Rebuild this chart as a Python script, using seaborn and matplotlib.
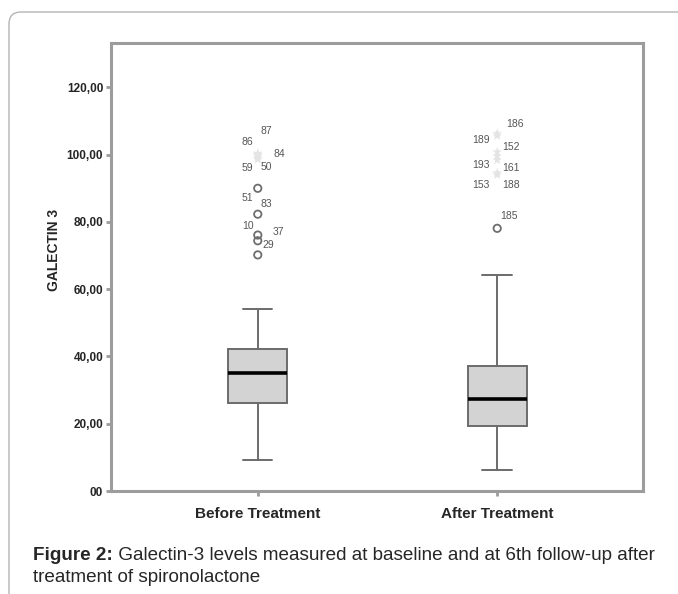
import numpy as np
import pandas as pd
import matplotlib
matplotlib.use("Agg")
import matplotlib.pyplot as plt
import seaborn as sns
from matplotlib.patches import FancyBboxPatch

# ---- data ----
groups = ["Before Treatment", "After Treatment"]
# five-number summaries (low whisker, Q1, median, Q3, high whisker)
before_summary = [9.2, 26.3, 35.2, 42.2, 54.2]
after_summary = [6.3, 19.4, 27.3, 37.2, 64.1]

# mild outliers (circles)
before_out_ids = ["51", "83", "10", "37", "29"]
before_out_vals = [90.0, 82.3, 76.1, 74.4, 70.2]
after_out_ids = ["185"]
after_out_vals = [78.1]

# extreme outliers (asterisks)
before_ext_ids = ["87", "86", "84", "59", "50"]
before_ext_vals = [100.4, 100.0, 99.6, 99.0, 98.6]
after_ext_ids = ["186", "189", "152", "193", "161", "153", "188"]
after_ext_vals = [106.3, 105.6, 100.8, 99.6, 98.4, 94.6, 94.0]

# label offsets in pixels (dx right, dy down) relative to each point
before_out_offsets = [(-10, 10), (9, -10), (-10, -9), (21, -9), (11, -10)]
after_out_offsets = [(12, -12)]
before_ext_offsets = [(9, -22), (-10, -13), (22, -2), (-10, 10), (9, 8)]
after_ext_offsets = [(18, -9), (-16, 4), (14, -5), (-16, 9), (14, 8), (-16, 12), (14, 10)]

y_ticks = [0, 20, 40, 60, 80, 100, 120]
y_ticklabels = ["00", "20,00", "40,00", "60,00", "80,00", "100,00", "120,00"]
y_label = "GALECTIN 3"
caption_bold = "Figure 2:"
caption_rest = " Galectin-3 levels measured at baseline and at 6th follow-up after"
caption_line2 = "treatment of spironolactone"

# ---- styling ----
sns.set_style("white")
plt.rcParams["font.family"] = ["Liberation Sans", "DejaVu Sans"]

W, H = 678, 594
fig = plt.figure(figsize=(W / 100, H / 100), dpi=100)
ax = fig.add_axes([111 / W, 1 - 491 / H, (643 - 111) / W, (491 - 43) / H])

box_df = pd.DataFrame({
    "group": [groups[0]] * 5 + [groups[1]] * 5,
    "value": before_summary + after_summary,
})
sns.boxplot(data=box_df, x="group", y="value", order=groups, ax=ax,
            whis=(0, 100), showfliers=False, width=0.246,
            color="#d3d3d3", linecolor="#6b6b6b", linewidth=1.4,
            saturation=1,
            medianprops=dict(color="black", linewidth=2.6))

out_df = pd.DataFrame({
    "group": [groups[0]] * len(before_out_vals) + [groups[1]] * len(after_out_vals),
    "value": before_out_vals + after_out_vals,
})
ext_df = pd.DataFrame({
    "group": [groups[0]] * len(before_ext_vals) + [groups[1]] * len(after_ext_vals),
    "value": before_ext_vals + after_ext_vals,
})
sns.scatterplot(data=ext_df, x="group", y="value", ax=ax, marker="*",
                s=55, color="#e4e4e4", edgecolor="none", zorder=3)
sns.scatterplot(data=out_df, x="group", y="value", ax=ax, marker="o",
                s=28, facecolor="none", edgecolor="#6e6e6e", linewidth=1.3,
                zorder=4)

def label_points(xpos, ids, vals, offsets):
    for i, v, (dx, dy) in zip(ids, vals, offsets):
        ax.annotate(i, (xpos, v), xytext=(dx, -dy), textcoords="offset pixels",
                    ha="center", va="center", fontsize=7.5, color="#555555")

label_points(0, before_out_ids, before_out_vals, before_out_offsets)
label_points(1, after_out_ids, after_out_vals, after_out_offsets)
label_points(0, before_ext_ids, before_ext_vals, before_ext_offsets)
label_points(1, after_ext_ids, after_ext_vals, after_ext_offsets)

# axes
ax.set_xlim(-0.613, 1.609)
ax.set_ylim(0, 133.2)
ax.set_yticks(y_ticks)
ax.set_yticklabels(y_ticklabels, fontsize=8.5, fontweight="bold")
for lab in ax.get_xticklabels():
    lab.set_fontsize(11)
    lab.set_fontweight("bold")
ax.set_xlabel("")
ax.set_ylabel(y_label, fontsize=10, fontweight="bold")
ax.yaxis.set_label_coords(-0.094, 0.538)
for sp in ax.spines.values():
    sp.set_visible(True)
    sp.set_color("#9c9c9c")
    sp.set_linewidth(2.2)
ax.tick_params(axis="y", left=True, length=3.6, width=2, color="#9c9c9c", pad=2)
ax.tick_params(axis="x", bottom=True, length=3.6, width=2, color="#9c9c9c", pad=8)

# outer rounded frame
frame = FancyBboxPatch((0.09, -0.3), 8.0, 5.82 + 0.3,
                       boxstyle="round,pad=0,rounding_size=0.12",
                       transform=fig.dpi_scale_trans, facecolor="none",
                       edgecolor="#b4b4b4", linewidth=1.0, clip_on=False)
fig.patches.append(frame)

# caption
cap_size = 13.6
t1 = fig.text(33 / W, 1 - 555 / H, caption_bold, fontsize=cap_size,
              fontweight="bold", va="center", ha="left")
renderer = fig.canvas.get_renderer()
bb = t1.get_window_extent(renderer)
fig.text(bb.x1 / W, 1 - 555 / H, caption_rest, fontsize=cap_size,
         va="center", ha="left")
fig.text(33 / W, 1 - 577 / H, caption_line2, fontsize=cap_size,
         va="center", ha="left")

fig.savefig("out.png", dpi=100)
